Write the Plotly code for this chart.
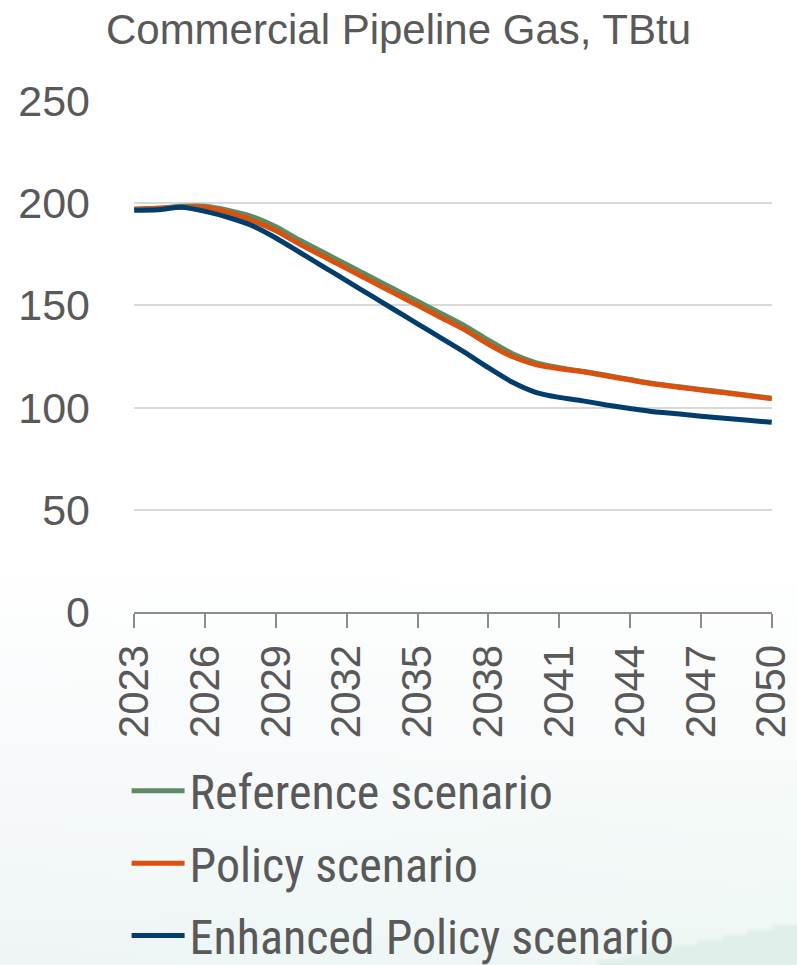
import base64
import struct
import zlib

import plotly.graph_objects as go

years = list(range(2023, 2051))

reference = [197, 197.5, 198.5, 198.5, 196.5, 193.5, 188.5, 182, 176, 170, 164, 158, 152, 146,
             140, 133, 126.5, 122, 119.5, 117.8, 115.8, 113.8, 111.8, 110.3, 108.9, 107.5, 106.1, 104.6]
policy = [197, 197.5, 198, 198, 195.5, 191.5, 186.5, 180, 174, 168, 162, 156, 150, 144,
          138, 131, 125, 121, 119, 117.5, 115.5, 113.5, 111.5, 110, 108.6, 107.2, 105.8, 104.3]
enhanced = [196.5, 196.8, 198, 196, 193, 189, 183, 176, 169, 162, 155, 148, 141, 134,
            127, 119.5, 112.5, 107.5, 105, 103.3, 101.3, 99.6, 98, 97, 95.8, 94.8, 93.8, 92.8]

series = [
    ("Reference scenario", reference, "#5F8B63"),
    ("Policy scenario", policy, "#DC500E"),
    ("Enhanced Policy scenario", enhanced, "#023D6C"),
]

W, H = 797, 965


def background_png(w=160, h=193):
    # soft white -> pale teal wash, with a diagonal band in the bottom-right corner
    rows = []
    for j in range(h):
        Y = (j + 0.5) * H / h
        row = bytearray([0])
        for i in range(w):
            X = (i + 0.5) * W / w
            t = min(max((Y - 560) / 405, 0), 1)
            u = X / W
            base = (239 - 1 * u, 245 + 2 * u, 247 - 3 * u)
            c = [255 + (b - 255) * t for b in base]
            edge = 923 + (797 - X) * 0.2
            if Y > edge:
                c = [224, 239, 234]
            row += bytes(int(round(v)) for v in c)
        rows.append(bytes(row))
    raw = b"".join(rows)

    def chunk(tag, data):
        return struct.pack(">I", len(data)) + tag + data + struct.pack(">I", zlib.crc32(tag + data) & 0xffffffff)

    png = b"\x89PNG\r\n\x1a\n" + chunk(b"IHDR", struct.pack(">IIBBBBB", w, h, 8, 2, 0, 0, 0))
    png += chunk(b"IDAT", zlib.compress(raw, 9)) + chunk(b"IEND", b"")
    return "data:image/png;base64," + base64.b64encode(png).decode()


L, R, T, B = 134, 25, 101, 353
pw, ph = W - L - R, H - T - B

fig = go.Figure()
for name, vals, col in series:
    fig.add_trace(go.Scatter(x=years, y=vals, name=name, mode="lines", legendgroup=name,
                             line=dict(color=col, width=5, shape="spline", smoothing=0.6)))

fig.add_layout_image(dict(source=background_png(), xref="paper", yref="paper",
                          x=-L / pw, y=1 + T / ph, sizex=W / pw, sizey=H / ph,
                          xanchor="left", yanchor="top", sizing="stretch", layer="below"))

fig.update_layout(
    width=W, height=H,
    margin=dict(l=L, r=R, t=T, b=B, autoexpand=False),
    paper_bgcolor="white", plot_bgcolor="rgba(0,0,0,0)",
    title=dict(text="Commercial Pipeline Gas, TBtu", x=0.5, xref="container", xanchor="center",
               y=0.985, yanchor="top",
               font=dict(family="Liberation Sans, Arial, sans-serif", size=42, color="#595959")),
    font=dict(family="Liberation Sans, Arial, sans-serif", color="#595959"),
    xaxis=dict(range=[2022.99, 2050.01], tickmode="array", tickvals=years[::3],
               ticktext=[str(y) for y in years[::3]], tickangle=-90, automargin=False,
               ticklabeloverflow="allow",
               tickfont=dict(size=42, color="#595959"), showgrid=False,
               showline=True, linecolor="#8C8C8C", linewidth=2,
               ticks="outside", ticklen=14, tickcolor="#8C8C8C", tickwidth=2,
               zeroline=False),
    yaxis=dict(range=[0, 250], dtick=50, tickfont=dict(size=43, color="#595959"),
               showgrid=True, gridcolor="#D9D9D9", gridwidth=2, zeroline=False, automargin=False,
               ticks="", ticklabelstandoff=43, showline=False),
    legend=dict(x=-0.0116, xanchor="left", y=-0.276, yanchor="top", orientation="v",
                font=dict(family="Liberation Sans Narrow, Roboto Condensed, Arial Narrow, sans-serif",
                          size=48, color="#595959"),
                bgcolor="rgba(0,0,0,0)", tracegroupgap=7, itemwidth=53),
    showlegend=True,
)

fig.write_html("out.html", config={"displayModeBar": False},
               post_script="document.body.style.margin='0';document.body.style.overflow='hidden';")
